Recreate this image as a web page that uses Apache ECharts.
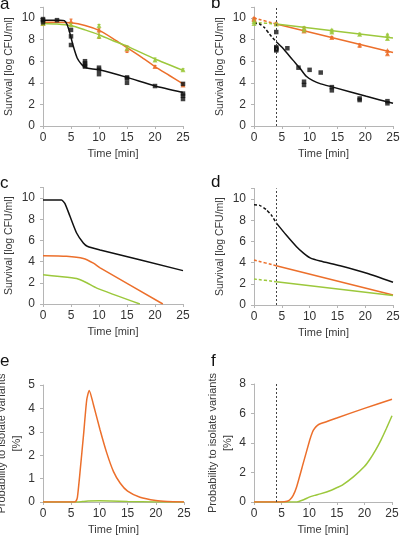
<!DOCTYPE html>
<html><head><meta charset="utf-8">
<script src="https://cdn.jsdelivr.net/npm/echarts@6/dist/echarts.min.js"></script>
<style>html,body{margin:0;padding:0;background:#fff}#c{width:400px;height:538px}</style>
</head><body><div id="c"></div>
<script>
// ---------- Data ----------
const xTicks = [0, 5, 10, 15, 20, 25];
// Panel a
const aBlackPts = [[0,9.6],[0,9.8],[0,9.9],[2.5,9.8],[5,8.9],[5,8.3],[5,7.5],[7.5,6.0],[7.5,5.8],[7.5,5.6],[7.5,5.5],[10,5.4],[10,5.2],[10,4.8],[15,4.5],[15,4.4],[15,4.0],[20,3.7],[25,3.9],[25,3.0],[25,2.8],[25,2.5]];
const aBlackLine = [[0,9.8],[3,9.8],[3.8,9.75],[4.3,9.4],[4.8,8.6],[5.4,7.4],[6.1,6.3],[6.9,5.7],[7.5,5.45],[8,5.35],[10,5.2],[15,4.5],[20,3.7],[25,3.1]];
const aOrangePts = [[0,9.5],[5,9.7],[10,8.9],[15,7.1],[20,5.5],[25,3.8]];
const aOrangeErr = [[0,9.3,9.7],[5,9.3,9.9],[10,8.1,9.0],[15,6.8,7.4],[20,5.4,5.6],[25,3.7,4.0]];
const aOrangeLine = [[0,9.6],[2.5,9.6],[5,9.55],[7.5,9.3],[10,8.85],[12.5,8.1],[15,7.25],[17.5,6.4],[20,5.5],[22.5,4.7],[25,3.9]];
const aGreenPts = [[0,9.5],[5,9.4],[10,9.3],[10,8.3],[15,7.2],[20,6.1],[25,5.2]];
const aGreenErr = [[0,9.4,9.6],[5,9.2,9.5],[10,8.2,9.4],[15,7.0,7.4],[20,6.0,6.3],[25,5.1,5.3]];
const aGreenLine = [[0,9.5],[2.5,9.45],[5,9.3],[7.5,8.9],[10,8.45],[12.5,7.9],[15,7.4],[20,6.2],[25,5.15]];
// Panel b
const bBlackPts = [[4,8.7],[4,7.3],[4,7.1],[4,7.0],[4,7.2],[6,7.2],[8,5.4],[9,4.1],[9,3.8],[10,5.2],[12,4.95],[14,3.6],[14,3.3],[19,2.55],[19,2.4],[24,2.3],[24,2.1]];
const bBlackDash = [[0,9.5],[1,9.45],[1.9,9.1],[2.8,8.5],[4,7.8]];
const bBlackLine = [[4,7.8],[5.2,7.2],[7,6.1],[8.2,5.4],[9.4,4.6],[10.6,4.2],[12,3.9],[14.2,3.6],[20.2,2.75],[25,2.1]];
const bOrangePts = [[0,10.0],[0,9.85],[4,9.5],[9,8.8],[9,9.0],[14,8.2],[19,7.5],[24,7.0],[24,6.7]];
const bOrangeErr = [[0,9.8,10.05],[4,9.4,9.6],[9,8.7,9.1],[14,8.1,8.3],[19,7.3,7.6],[24,6.6,7.0]];
const bOrangeDash = [[0,10.0],[4,9.45]];
const bOrangeLine = [[4,9.45],[25,6.8]];
const bGreenPts = [[0,9.7],[0,9.5],[4,9.45],[9,9.1],[9,8.9],[14,8.9],[14,8.7],[19,8.5],[24,8.45],[24,8.1]];
const bGreenErr = [[0,9.5,9.7],[4,9.35,9.5],[9,8.9,9.2],[14,8.6,8.95],[19,8.4,8.6],[24,8.0,8.5]];
const bGreenDash = [[0,9.6],[4,9.45]];
const bGreenLine = [[4,9.45],[25,8.15]];
// Panel c
const cBlack = [[0,9.8],[3.3,9.8],[3.9,9.5],[4.8,8.3],[6,6.7],[7.2,5.75],[7.9,5.45],[10.2,5.1],[25,3.15]];
const cOrange = [[0,4.55],[4.2,4.5],[7.2,4.3],[9,3.85],[10.2,3.4],[21.4,0]];
const cGreen = [[0,2.75],[3,2.6],[6,2.4],[7.8,2.0],[9.6,1.5],[17.3,0]];
// Panel d
const dBlackDash = [[0,9.45],[1,9.4],[2.2,9.0],[3.1,8.5],[4,7.75]];
const dBlackLine = [[4,7.75],[5.8,6.6],[7.65,5.5],[8.9,4.9],[10.1,4.45],[11.9,4.15],[15.5,3.7],[20.3,3.0],[25,2.15]];
const dOrangeDash = [[0,4.25],[4,3.7]];
const dOrangeLine = [[4,3.7],[25,0.95]];
const dGreenDash = [[0,2.45],[4,2.2]];
const dGreenLine = [[4,2.2],[25,0.9]];
// Panel e
const eOrange = [[0,0],[5.5,0],[5.8,0.02],[6.1,0.2],[6.6,1.37],[7.2,2.9],[7.75,4.36],[8.2,4.77],[8.9,4.2],[10.1,3.1],[11.3,2.1],[12.5,1.3],[13.7,0.8],[15,0.46],[17.2,0.2],[20,0.06],[22,0.02],[25,0]];
const eGreen = [[0,0],[6,0],[7,0.02],[8,0.04],[10,0.05],[12,0.04],[15,0.02],[20,0.005],[25,0]];
// Panel f
const fOrange = [[0,0],[5,0],[6,0.05],[6.5,0.15],[7.1,0.45],[7.7,1.0],[8.9,2.6],[10.1,4.2],[10.6,4.75],[11,5.0],[11.5,5.2],[12,5.3],[15,5.7],[20,6.35],[25,6.97]];
const fGreen = [[0,0],[7.5,0],[8,0.02],[9,0.15],[10,0.33],[11,0.45],[12,0.55],[14,0.8],[15,0.97],[16,1.15],[18,1.7],[20,2.4],[21,2.9],[22,3.5],[23,4.2],[24,5.0],[25,5.85]];
const cutoff = 4;

// ---------- Styles ----------
const BLACK = '#111', ORANGE = '#ec6f2b', GREEN = '#9cc83c';
const FONT = 'Liberation Sans, Arial, sans-serif';

const grids = [
  {left:43, width:140, top:7.2, height:118.8},
  {left:254, width:139, top:7.2, height:118.8},
  {left:43, width:140, top:187.4, height:116.6},
  {left:254, width:139, top:188.4, height:116.6},
  {left:43, width:141, top:385, height:117},
  {left:254, width:138, top:384, height:118}
].map(g => Object.assign(g, {outerBoundsMode:'none', containLabel:false}));
function xAx(i){
  return {gridIndex:i, type:'value', min:0, max:25, interval:5, name:'Time [min]', nameLocation:'middle', nameGap:22,
    nameTextStyle:{fontSize:11, color:'#3a3a3a', fontFamily:FONT, fontWeight:'normal'},
    axisLine:{lineStyle:{color:'#b5b5b5'}}, axisTick:{length:3, lineStyle:{color:'#b5b5b5'}},
    axisLabel:{fontSize:12, color:'#333', fontFamily:FONT, margin:6}, splitLine:{show:false}};
}
function yAx(i, max, interval, name, gap, fs){
  return {gridIndex:i, type:'value', min:0, max:max, interval:interval, name:name, nameLocation:'middle', nameGap:gap,
    nameTextStyle:{fontSize:fs, color:'#3a3a3a', fontFamily:FONT, fontWeight:'normal', lineHeight:15},
    axisLine:{show:true, lineStyle:{color:'#b5b5b5'}}, axisTick:{show:true, length:3, lineStyle:{color:'#b5b5b5'}},
    axisLabel:{fontSize:12, color:'#333', fontFamily:FONT, margin:8, formatter:function(v){return (v % interval === 0) ? String(v) : '';}},
    splitLine:{show:false}};
}
const survName = 'Survival [log CFU/ml]';
const probName = 'Probability to isolate variants\n[%]';

function line(i, data, color, dashed){
  return {type:'line', xAxisIndex:i, yAxisIndex:i, data:data, showSymbol:false, smooth:0.2,
    lineStyle:{color:color, width:1.5, type: dashed ? [3,2] : 'solid'}, itemStyle:{color:color}, silent:true, z:2};
}
function pts(i, data, color, symbol, size){
  return {type:'scatter', xAxisIndex:i, yAxisIndex:i, data:data, symbol:symbol, symbolSize:size,
    itemStyle:{color:color}, silent:true, z:4};
}
function errRender(params, api){
  const p1 = api.coord([api.value(0), api.value(1)]);
  const p2 = api.coord([api.value(0), api.value(2)]);
  const c = api.visual('color');
  return {type:'group', children:[
    {type:'line', shape:{x1:p1[0], y1:p1[1], x2:p2[0], y2:p2[1]}, style:{stroke:c, lineWidth:1}},
    {type:'line', shape:{x1:p1[0]-1.5, y1:p1[1], x2:p1[0]+1.5, y2:p1[1]}, style:{stroke:c, lineWidth:1}},
    {type:'line', shape:{x1:p2[0]-1.5, y1:p2[1], x2:p2[0]+1.5, y2:p2[1]}, style:{stroke:c, lineWidth:1}}
  ]};
}
function err(i, data, color){
  return {type:'custom', xAxisIndex:i, yAxisIndex:i, data:data, renderItem:errRender, itemStyle:{color:color}, silent:true, z:3};
}
function vline(i){
  return {type:'line', xAxisIndex:i, yAxisIndex:i, data:[], silent:true,
    markLine:{silent:true, symbol:'none', label:{show:false}, lineStyle:{color:'#444', width:1, type:[2,2]}, data:[{xAxis:cutoff}]}};
}

const option = {
  animation:false,
  backgroundColor:'#fff',
  grid: grids,
  xAxis: [0,1,2,3,4,5].map(xAx),
  yAxis: [
    yAx(0, 11, 2, survName, 26, 10.5),
    yAx(1, 11, 2, survName, 26, 10.5),
    yAx(2, 11, 2, survName, 26, 10.5),
    yAx(3, 11, 2, survName, 26, 10.5),
    yAx(4, 5, 1, probName, 14, 11),
    yAx(5, 8, 2, probName, 14, 11)
  ],
  graphic: [
    {type:'text', left:0, top:-4, style:{text:'a', fontSize:17, fontFamily:FONT, fill:'#111'}},
    {type:'text', left:211, top:-5, style:{text:'b', fontSize:17, fontFamily:FONT, fill:'#111'}},
    {type:'text', left:0, top:175, style:{text:'c', fontSize:17, fontFamily:FONT, fill:'#111'}},
    {type:'text', left:211, top:174, style:{text:'d', fontSize:17, fontFamily:FONT, fill:'#111'}},
    {type:'text', left:0, top:353, style:{text:'e', fontSize:17, fontFamily:FONT, fill:'#111'}},
    {type:'text', left:211, top:353, style:{text:'f', fontSize:17, fontFamily:FONT, fill:'#111'}}
  ],
  series: [
    // a
    line(0, aOrangeLine, ORANGE), line(0, aGreenLine, GREEN), line(0, aBlackLine, BLACK),
    err(0, aOrangeErr, ORANGE), err(0, aGreenErr, GREEN),
    pts(0, aOrangePts, ORANGE, 'triangle', 5), pts(0, aGreenPts, GREEN, 'triangle', 5),
    pts(0, aBlackPts, BLACK, 'rect', 4.5),
    // b
    vline(1),
    line(1, bOrangeDash, ORANGE, true), line(1, bOrangeLine, ORANGE),
    line(1, bGreenDash, GREEN, true), line(1, bGreenLine, GREEN),
    line(1, bBlackDash, BLACK, true), line(1, bBlackLine, BLACK),
    err(1, bOrangeErr, ORANGE), err(1, bGreenErr, GREEN),
    pts(1, bOrangePts, ORANGE, 'triangle', 5), pts(1, bGreenPts, GREEN, 'triangle', 5),
    pts(1, bBlackPts, BLACK, 'rect', 4.5),
    // c
    line(2, cBlack, BLACK), line(2, cOrange, ORANGE), line(2, cGreen, GREEN),
    // d
    vline(3),
    line(3, dBlackDash, BLACK, true), line(3, dBlackLine, BLACK),
    line(3, dOrangeDash, ORANGE, true), line(3, dOrangeLine, ORANGE),
    line(3, dGreenDash, GREEN, true), line(3, dGreenLine, GREEN),
    // e
    line(4, eGreen, GREEN), line(4, eOrange, ORANGE),
    // f
    vline(5),
    line(5, fGreen, GREEN), line(5, fOrange, ORANGE)
  ]
};
const chart = echarts.init(document.getElementById('c'), null, {renderer:'canvas'});
chart.setOption(option);
</script>
</body></html>
